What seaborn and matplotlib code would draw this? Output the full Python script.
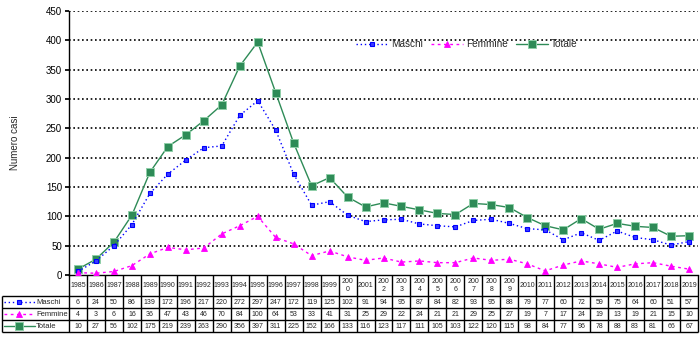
import matplotlib
matplotlib.use("Agg")
import matplotlib.pyplot as plt
import seaborn as sns
import pandas as pd
from matplotlib.lines import Line2D

years = list(range(1985, 2020))
year_labels = [("200\n" + str(y)[-1]) if (2000 <= y <= 2009 and y != 2001) else str(y) for y in years]
maschi = [6, 24, 50, 86, 139, 172, 196, 217, 220, 272, 297, 247, 172, 119, 125, 102, 91, 94, 95, 87,
          84, 82, 93, 95, 88, 79, 77, 60, 72, 59, 75, 64, 60, 51, 57]
femmine = [4, 3, 6, 16, 36, 47, 43, 46, 70, 84, 100, 64, 53, 33, 41, 31, 25, 29, 22, 24,
           21, 21, 29, 25, 27, 19, 7, 17, 24, 19, 13, 19, 21, 15, 10]
totale = [10, 27, 56, 102, 175, 219, 239, 263, 290, 356, 397, 311, 225, 152, 166, 133, 116, 123, 117, 111,
          105, 103, 122, 120, 115, 98, 84, 77, 96, 78, 88, 83, 81, 66, 67]
series_names = ["Maschi", "Femmine", "Totale"]

sns.set_theme(style="white")
plt.rcParams["font.family"] = ["Liberation Sans", "DejaVu Sans"]

W, H = 700, 337
fig = plt.figure(figsize=(W / 100, H / 100), dpi=100)

def px_axes(x0, y0, x1, y1):
    return fig.add_axes([x0 / W, 1 - y1 / H, (x1 - x0) / W, (y1 - y0) / H])

ax = px_axes(69, 11, 698, 275)

df = pd.DataFrame({"pos": range(len(years)), "Maschi": maschi, "Femmine": femmine, "Totale": totale})

styles = {
    "Maschi": dict(color="#0000ff", linestyle=(0, (1, 2)), linewidth=1.0, marker="s", markersize=3.2,
                   markerfacecolor="#3c3cff", markeredgecolor="#0000ff", markeredgewidth=0.8),
    "Femmine": dict(color="#ff00ff", linestyle=(0, (2, 2.5)), linewidth=1.0, marker="^", markersize=4,
                    markerfacecolor="#ff00ff", markeredgecolor="#ff00ff", markeredgewidth=0.6),
    "Totale": dict(color="#2e8b57", linestyle="-", linewidth=1.0, marker="s", markersize=5.6,
                   markerfacecolor="#2e8b57", markeredgecolor="#8fcfa8", markeredgewidth=0.7),
}

for name in ["Totale", "Maschi", "Femmine"]:
    sns.lineplot(data=df, x="pos", y=name, ax=ax, label=name, zorder=3 if name == "Totale" else 4,
                 **styles[name])

ax.set_xlim(-0.5, len(years) - 0.5)
ax.set_ylim(0, 450)
ax.set_yticks(range(0, 451, 50))
ax.set_xticks([])
ax.set_xlabel("")
ax.set_ylabel("Numero casi", fontsize=7, labelpad=19)
ax.tick_params(axis="y", labelsize=7, length=3, direction="out", left=True, pad=2, colors="black")
for s in ["top", "right"]:
    ax.spines[s].set_visible(False)
for s in ["left", "bottom"]:
    ax.spines[s].set_color("black")
    ax.spines[s].set_linewidth(1.0)
for v in range(50, 451, 50):
    ax.axhline(v, color="black", linestyle=(0, (1, 1.6)), linewidth=1.2, zorder=1)

handles = [Line2D([0], [0], **styles[n]) for n in series_names]
ax.legend(handles, series_names, loc="upper left", bbox_to_anchor=((352 - 69) / 629, 1 - (42 - 11 - 7) / 264),
          ncol=3, frameon=False, fontsize=7.2, handlelength=3.2, columnspacing=0.8, handletextpad=0.3,
          borderaxespad=0)

# Data table under the plot
tab = px_axes(69, 275, 698, 333)
tab.set_xlim(-0.5, len(years) - 0.5)
tab.set_ylim(58, 0)
tab.axis("off")
lw = 1.0
row_y = [0, 21, 33, 45, 57]
left_edge = -0.5 - (69 - 2) / (629 / len(years))

def hline(y, x0, x1):
    tab.plot([x0, x1], [y, y], color="black", linewidth=lw, clip_on=False, solid_capstyle="butt")

def vline(x, y0, y1):
    tab.plot([x, x], [y0, y1], color="black", linewidth=lw, clip_on=False, solid_capstyle="butt")

for y in row_y[1:]:
    hline(y, left_edge, len(years) - 0.5)
vline(left_edge, row_y[1], row_y[-1])
for i in range(len(years) + 1):
    vline(i - 0.5, 0, row_y[-1])

for i, lab in enumerate(year_labels):
    tab.text(i, row_y[1] / 2, lab, ha="center", va="center", fontsize=5, linespacing=1.1, clip_on=False)
for r, vals in enumerate([maschi, femmine, totale]):
    yc = (row_y[r + 1] + row_y[r + 2]) / 2
    for i, v in enumerate(vals):
        tab.text(i, yc, str(v), ha="center", va="center", fontsize=5, clip_on=False)

unit = 629 / len(years)
for r, name in enumerate(series_names):
    yc = (row_y[r + 1] + row_y[r + 2]) / 2
    x0 = left_edge + 2 / unit
    x1 = left_edge + 33 / unit
    st = dict(styles[name])
    mk = {k: st.pop(k) for k in ["marker", "markersize", "markerfacecolor", "markeredgecolor", "markeredgewidth"] if k in st}
    tab.plot([x0, x1], [yc, yc], clip_on=False, **st)
    tab.plot([(x0 + x1) / 2], [yc], clip_on=False, linestyle="none", **mk)
    tab.text(left_edge + 34 / unit, yc, name, ha="left", va="center", fontsize=5.5, clip_on=False)

fig.savefig("out.png", dpi=100)
